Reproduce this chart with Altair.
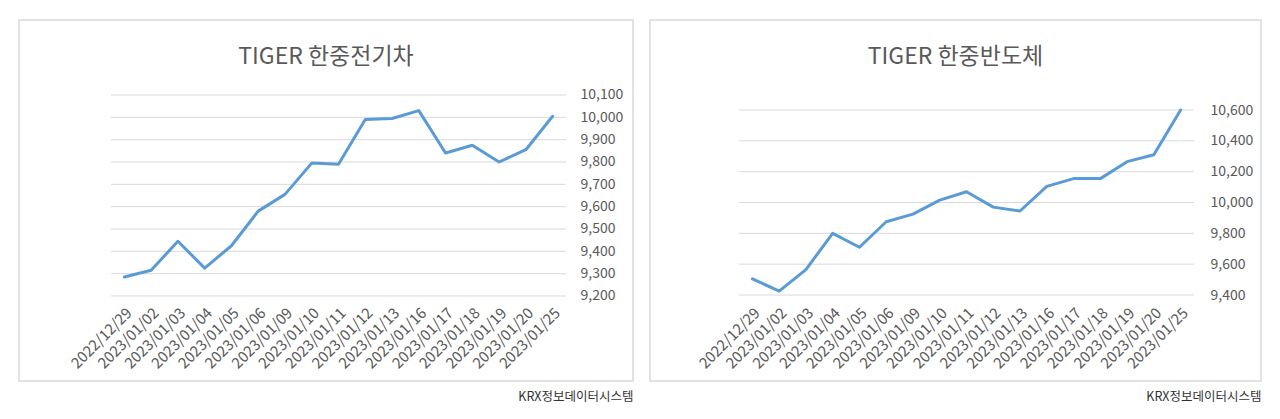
import altair as alt
import pandas as pd

dates = ["2022/12/29", "2023/01/02", "2023/01/03", "2023/01/04", "2023/01/05",
         "2023/01/06", "2023/01/09", "2023/01/10", "2023/01/11", "2023/01/12",
         "2023/01/13", "2023/01/16", "2023/01/17", "2023/01/18", "2023/01/19",
         "2023/01/20", "2023/01/25"]
ev_values = [9285, 9315, 9445, 9325, 9425, 9580, 9655, 9795, 9790, 9990,
             9995, 10030, 9840, 9875, 9800, 9855, 10005]
semi_values = [9505, 9425, 9565, 9800, 9710, 9875, 9925, 10015, 10070, 9970,
               9945, 10105, 10155, 10155, 10265, 10310, 10600]
ev_ticks = [9200, 9300, 9400, 9500, 9600, 9700, 9800, 9900, 10000, 10100]
semi_ticks = [9400, 9600, 9800, 10000, 10200, 10400, 10600]
titles = ["TIGER 한중전기차", "TIGER 한중반도체"]
source = "KRX정보데이터시스템"

GRID = "#d9d9d9"
TEXT = "#595959"
LINE = "#5b9bd5"


def panel(title, values, ticks, ydomain, width, xrange, y_offset):
    height = 361
    df = pd.DataFrame({"date": dates, "value": values})
    grid_df = pd.DataFrame({"value": ticks, "start": dates[0], "end": dates[-1]})
    xscale = alt.Scale(type="band", domain=dates, paddingInner=0, paddingOuter=0, range=xrange)
    yscale = alt.Scale(domain=ydomain, nice=False, zero=False)
    xaxis = alt.Axis(
        orient="bottom", offset=-76, labelAngle=-45, labelAlign="right",
        labelBaseline="top", labelPadding=0, ticks=False, domain=False,
        grid=False, labelOverlap=False, labelFontSize=15, labelColor=TEXT,
        title=source, titleX=width, titleY=85, titleAlign="right",
        titleBaseline="top", titleFontSize=12.5, titleFontWeight="normal",
        titleColor="#333333")
    yaxis = alt.Axis(
        orient="right", offset=y_offset, values=ticks, format=",d",
        labelAlign="left", labelBaseline="middle", labelPadding=0,
        ticks=False, domain=False, grid=False, labelFontSize=14,
        labelColor=TEXT, title=None)

    grid = alt.Chart(grid_df).mark_rule(color=GRID, strokeWidth=1).encode(
        x=alt.X("start:N", scale=xscale, bandPosition=0, axis=xaxis),
        x2=alt.X2("end", bandPosition=1),
        y=alt.Y("value:Q", scale=yscale, axis=yaxis),
    )
    line = alt.Chart(df).mark_line(
        color=LINE, strokeWidth=3, strokeJoin="round", strokeCap="round"
    ).encode(
        x=alt.X("date:N", scale=xscale, sort=dates, axis=xaxis),
        y=alt.Y("value:Q", scale=yscale, axis=yaxis),
    )
    return alt.layer(grid, line).properties(
        width=width, height=height,
        title=alt.TitleParams(text=title, offset=-49, fontSize=23, color=TEXT,
                              fontWeight="normal", anchor="middle", frame="group"),
    )


left = panel(titles[0], ev_values, ev_ticks, [8819.4, 10435.8], 614, [92, 547], -53)
right = panel(titles[1], semi_values, semi_ticks, [8842.2, 11183.8], 611, [89, 544], -51)

chart = alt.hconcat(left, right, spacing=15).properties(
    padding={"left": 10, "top": 11, "right": 5, "bottom": 5}
).configure(
    font="Noto Sans CJK KR",
).configure_view(
    stroke=GRID, strokeWidth=1.5
)

chart.save("out.html", embed_options={"renderer": "svg", "actions": False})
